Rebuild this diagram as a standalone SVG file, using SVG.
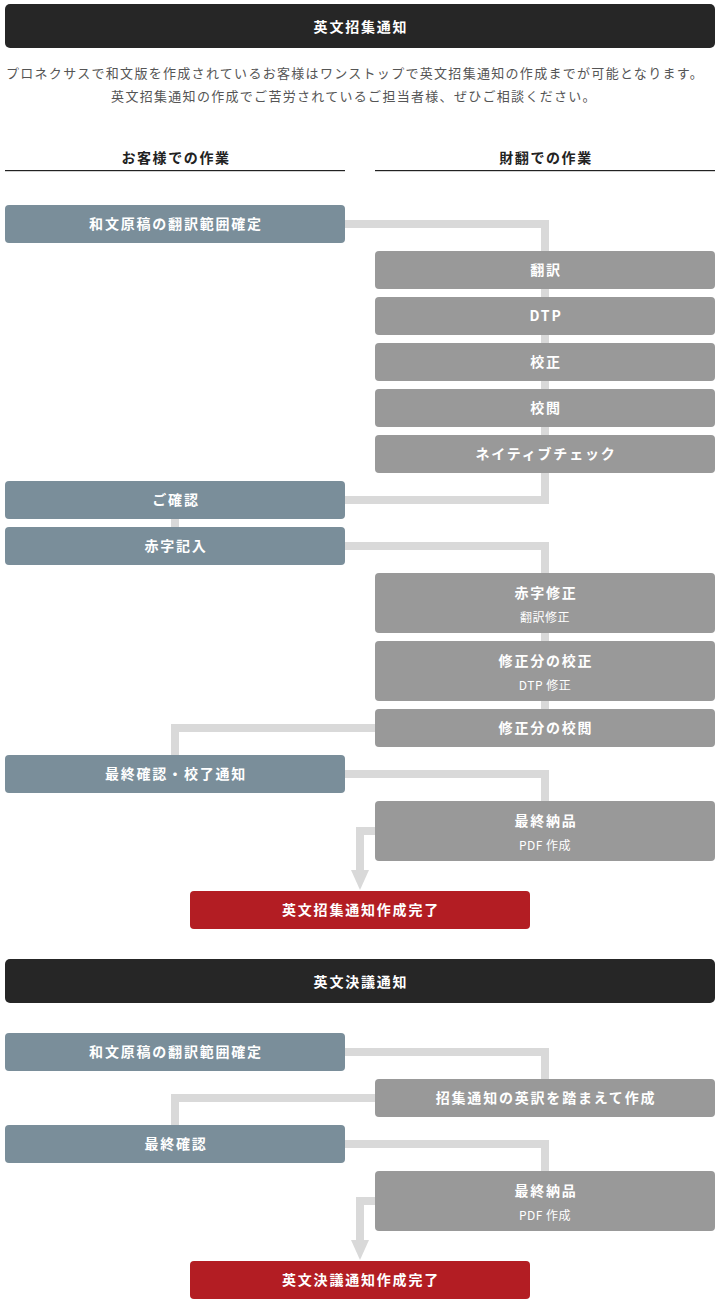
<svg xmlns="http://www.w3.org/2000/svg" width="720" height="1306" viewBox="0 0 720 1306">
<defs>
<style>
text{font-family:"Noto Sans CJK JP","Noto Sans",sans-serif;text-anchor:middle}
.hd{fill:#262626}
.cu{fill:#7a8e9a}
.zh{fill:#999999}
.done{fill:#b31d23}
.t{fill:#fff;font-size:14px;font-weight:bold;letter-spacing:1.8px}
.s{fill:#fff;font-size:12px;letter-spacing:0.5px}
.p{fill:#555;font-size:13px;letter-spacing:1.3px}
.ch{fill:#222;font-size:14px;font-weight:bold;letter-spacing:1.6px}
.c{fill:none;stroke:#d9d9d9;stroke-width:8;stroke-linejoin:miter}
</style>
<marker id="arr" markerUnits="userSpaceOnUse" viewBox="0 -10 20 20" markerWidth="20" markerHeight="20" refX="0" refY="0" orient="auto">
<path d="M0,-9 L20,0 L0,9 z" fill="#d9d9d9"/>
</marker>
</defs>
<rect width="720" height="1306" fill="#fff"/>

<g id="connectors">
<path class="c" d="M345 224 H545 V251"/>
<path class="c" d="M545 251 V473"/>
<path class="c" d="M545 473 V500 H345"/>
<path class="c" d="M175 519 V527"/>
<path class="c" d="M345 546 H545 V573"/>
<path class="c" d="M545 573 V747"/>
<path class="c" d="M375 728 H175 V755"/>
<path class="c" d="M345 774 H545 V801"/>
<path class="c" d="M375 831 H360 V870" marker-end="url(#arr)"/>
<path class="c" d="M345 1052 H545 V1079"/>
<path class="c" d="M375 1098 H175 V1125"/>
<path class="c" d="M345 1144 H545 V1171"/>
<path class="c" d="M375 1201 H360 V1240" marker-end="url(#arr)"/>
</g>

<g id="header1">
<rect class="hd" x="5" y="4" width="710" height="44" rx="5"/>
<text class="t" x="361" y="32">英文招集通知</text>
</g>
<g id="intro">
<text class="p" x="355" y="78">プロネクサスで和文版を作成されているお客様はワンストップで英文招集通知の作成までが可能となります。</text>
<text class="p" x="354" y="101">英文招集通知の作成でご苦労されているご担当者様、ぜひご相談ください。</text>
</g>
<g id="col-customer">
<text class="ch" x="176" y="163">お客様での作業</text>
<rect x="5" y="170" width="340" height="1.2" fill="#222"/>
</g>
<g id="col-zaihon">
<text class="ch" x="546" y="163">財翻での作業</text>
<rect x="375" y="170" width="340" height="1.2" fill="#222"/>
</g>

<g id="n1"><rect class="cu" x="5" y="205" width="340" height="38" rx="4"/><text class="t" x="176" y="229">和文原稿の翻訳範囲確定</text></g>
<g id="n2"><rect class="zh" x="375" y="251" width="340" height="38" rx="4"/><text class="t" x="546" y="275">翻訳</text></g>
<g id="n3"><rect class="zh" x="375" y="297" width="340" height="38" rx="4"/><text class="t" x="546" y="321">DTP</text></g>
<g id="n4"><rect class="zh" x="375" y="343" width="340" height="38" rx="4"/><text class="t" x="546" y="367">校正</text></g>
<g id="n5"><rect class="zh" x="375" y="389" width="340" height="38" rx="4"/><text class="t" x="546" y="413">校閲</text></g>
<g id="n6"><rect class="zh" x="375" y="435" width="340" height="38" rx="4"/><text class="t" x="546" y="459">ネイティブチェック</text></g>
<g id="n7"><rect class="cu" x="5" y="481" width="340" height="38" rx="4"/><text class="t" x="176" y="505">ご確認</text></g>
<g id="n8"><rect class="cu" x="5" y="527" width="340" height="38" rx="4"/><text class="t" x="176" y="551">赤字記入</text></g>
<g id="n9"><rect class="zh" x="375" y="573" width="340" height="60" rx="4"/><text class="t" x="546" y="598">赤字修正</text><text class="s" x="545" y="622">翻訳修正</text></g>
<g id="n10"><rect class="zh" x="375" y="641" width="340" height="60" rx="4"/><text class="t" x="546" y="666">修正分の校正</text><text class="s" x="545" y="690">DTP 修正</text></g>
<g id="n11"><rect class="zh" x="375" y="709" width="340" height="38" rx="4"/><text class="t" x="546" y="733">修正分の校閲</text></g>
<g id="n12"><rect class="cu" x="5" y="755" width="340" height="38" rx="4"/><text class="t" x="176" y="779">最終確認・校了通知</text></g>
<g id="n13"><rect class="zh" x="375" y="801" width="340" height="60" rx="4"/><text class="t" x="546" y="826">最終納品</text><text class="s" x="545" y="850">PDF 作成</text></g>
<g id="n14"><rect class="done" x="190" y="891" width="340" height="38" rx="4"/><text class="t" x="361" y="915">英文招集通知作成完了</text></g>

<g id="header2">
<rect class="hd" x="5" y="959" width="710" height="44" rx="5"/>
<text class="t" x="361" y="987">英文決議通知</text>
</g>
<g id="m1"><rect class="cu" x="5" y="1033" width="340" height="38" rx="4"/><text class="t" x="176" y="1057">和文原稿の翻訳範囲確定</text></g>
<g id="m2"><rect class="zh" x="375" y="1079" width="340" height="38" rx="4"/><text class="t" x="546" y="1103">招集通知の英訳を踏まえて作成</text></g>
<g id="m3"><rect class="cu" x="5" y="1125" width="340" height="38" rx="4"/><text class="t" x="176" y="1149">最終確認</text></g>
<g id="m4"><rect class="zh" x="375" y="1171" width="340" height="60" rx="4"/><text class="t" x="546" y="1196">最終納品</text><text class="s" x="545" y="1220">PDF 作成</text></g>
<g id="m5"><rect class="done" x="190" y="1261" width="340" height="38" rx="4"/><text class="t" x="361" y="1285">英文決議通知作成完了</text></g>
</svg>
